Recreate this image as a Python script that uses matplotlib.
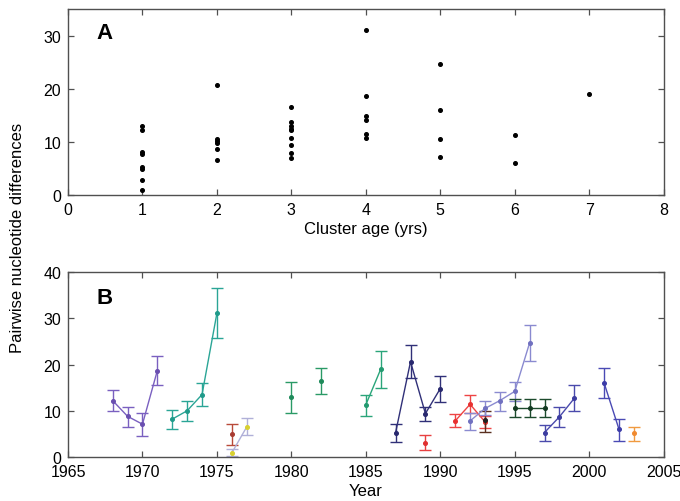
import matplotlib
matplotlib.use("Agg")
import matplotlib.pyplot as plt
import numpy as np

plt.rcParams['font.family'] = ['Liberation Sans', 'DejaVu Sans']

# Panel A data: cluster age vs pairwise differences
age_1 = [13.0, 12.2, 8.0, 7.7, 5.2, 4.9, 2.9, 0.9]
age_2 = [20.7, 10.5, 10.1, 9.8, 8.6, 6.6]
age_3 = [16.5, 13.7, 13.0, 12.5, 12.2, 10.7, 9.4, 7.9, 7.0]
age_4 = [31.1, 18.7, 14.9, 14.1, 11.5, 10.8]
age_5 = [24.6, 16.0, 10.6, 7.2]
age_6 = [11.3, 6.0]
age_7 = [19.0]
ages_a = [1, 2, 3, 4, 5, 6, 7]
vals_a = [age_1, age_2, age_3, age_4, age_5, age_6, age_7]

# Panel B series: (years, values, lower, upper, marker colour, errorbar colour)
s1_years = [1968, 1969, 1970, 1971]
s1_vals = [12.2, 8.8, 7.1, 18.7]
s1_lo = [9.9, 6.4, 4.5, 15.6]
s1_hi = [14.5, 10.9, 9.6, 21.8]

s2_years = [1972, 1973, 1974, 1975]
s2_vals = [8.2, 10.0, 13.5, 31.1]
s2_lo = [6.1, 7.7, 11.0, 25.7]
s2_hi = [10.2, 12.2, 16.0, 36.5]

s3_years = [1976]
s3_vals = [5.0]
s3_lo = [2.7]
s3_hi = [7.1]

s4_years = [1976, 1977]
s4_vals = [0.9, 6.5]
s4_lo = [0.2, 4.7]
s4_hi = [1.8, 8.5]

s5_years = [1980]
s5_vals = [12.9]
s5_lo = [9.6]
s5_hi = [16.2]

s6_years = [1982]
s6_vals = [16.5]
s6_lo = [13.7]
s6_hi = [19.3]

s7_years = [1985, 1986]
s7_vals = [11.3, 19.0]
s7_lo = [8.9, 14.9]
s7_hi = [13.4, 23.0]

s8_years = [1987, 1988, 1989, 1990]
s8_vals = [5.3, 20.6, 9.4, 14.8]
s8_lo = [3.3, 17.0, 7.7, 12.0]
s8_hi = [7.2, 24.2, 10.9, 17.6]

s9_years = [1989]
s9_vals = [3.1]
s9_lo = [1.5]
s9_hi = [4.7]

s10_years = [1991, 1992, 1993]
s10_vals = [7.8, 11.4, 7.6]
s10_lo = [6.4, 9.6, 6.3]
s10_hi = [9.2, 13.4, 8.8]

s11_years = [1993]
s11_vals = [8.0]
s11_lo = [5.5]
s11_hi = [10.0]

s12_years = [1992, 1993, 1994, 1995, 1996]
s12_vals = [7.8, 10.5, 12.2, 14.2, 24.7]
s12_lo = [5.8, 9.0, 10.0, 12.1, 20.7]
s12_hi = [9.6, 12.1, 14.1, 16.3, 28.6]

s13_years = [1995, 1996, 1997]
s13_vals = [10.7, 10.7, 10.7]
s13_lo = [8.7, 8.7, 8.7]
s13_hi = [12.5, 12.5, 12.5]

s14_years = [1997, 1998, 1999]
s14_vals = [5.3, 8.7, 12.7]
s14_lo = [3.5, 6.4, 9.9]
s14_hi = [7.0, 10.9, 15.5]

s15_years = [2001, 2002]
s15_vals = [16.0, 6.0]
s15_lo = [12.7, 3.5]
s15_hi = [19.2, 8.3]

s16_years = [2003]
s16_vals = [5.2]
s16_lo = [3.5]
s16_hi = [6.5]

series = [
    (s1_years, s1_vals, s1_lo, s1_hi, '#6a4fb0', '#7a60c0'),
    (s2_years, s2_vals, s2_lo, s2_hi, '#1f9a8a', '#2aa596'),
    (s3_years, s3_vals, s3_lo, s3_hi, '#a83a30', '#b84a3a'),
    (s4_years, s4_vals, s4_lo, s4_hi, '#d8d030', '#b0b0d8'),
    (s5_years, s5_vals, s5_lo, s5_hi, '#1e8a5a', '#2a9a66'),
    (s6_years, s6_vals, s6_lo, s6_hi, '#1e8a5a', '#2a9a66'),
    (s7_years, s7_vals, s7_lo, s7_hi, '#239a70', '#2aa57a'),
    (s8_years, s8_vals, s8_lo, s8_hi, '#28286e', '#303078'),
    (s9_years, s9_vals, s9_lo, s9_hi, '#e03030', '#e84040'),
    (s10_years, s10_vals, s10_lo, s10_hi, '#e83030', '#ee4444'),
    (s11_years, s11_vals, s11_lo, s11_hi, '#202020', '#5a3020'),
    (s12_years, s12_vals, s12_lo, s12_hi, '#7070c0', '#8a8ad0'),
    (s13_years, s13_vals, s13_lo, s13_hi, '#133a22', '#1c4a2c'),
    (s14_years, s14_vals, s14_lo, s14_hi, '#3c3ca0', '#4a4aac'),
    (s15_years, s15_vals, s15_lo, s15_hi, '#3c3ca8', '#4a4ab4'),
    (s16_years, s16_vals, s16_lo, s16_hi, '#f08a30', '#f09a40'),
]

fig = plt.figure(figsize=(6.8, 5.02), dpi=100)
axA = fig.add_axes([0.1, 0.6096, 0.876, 0.3704])
axB = fig.add_axes([0.1, 0.0876, 0.876, 0.3686])

spine_col = '#505050'
for ax in (axA, axB):
    for sp in ax.spines.values():
        sp.set_color(spine_col)
        sp.set_linewidth(1.0)
    ax.tick_params(direction='in', top=True, right=True, length=4.5,
                   color=spine_col, labelsize=11.5, width=0.9, pad=5)

# Panel A
for a, vs in zip(ages_a, vals_a):
    axA.plot([a] * len(vs), vs, 'o', color='black', markersize=2.6, linestyle='none')
axA.set_xlim(0, 8)
axA.set_ylim(0, 35)
axA.set_xticks(range(0, 9))
axA.set_yticks([0, 10, 20, 30])
axA.set_xlabel('Cluster age (yrs)', fontsize=12, labelpad=3)
axA.text(0.048, 0.875, 'A', transform=axA.transAxes, fontsize=16, fontweight='bold',
         va='center', ha='left')

# Panel B
for yrs, v, lo, hi, col, ecol in series:
    v = np.array(v)
    yerr = np.vstack([v - np.array(lo), np.array(hi) - v])
    axB.errorbar(yrs, v, yerr=yerr, fmt='none', ecolor=ecol, elinewidth=1.0,
                 capsize=4, capthick=1.0)
    axB.plot(yrs, v, '-', color=ecol, linewidth=1.0)
    axB.plot(yrs, v, 'o', color=col, markersize=2.6, linestyle='none')
axB.set_xlim(1965, 2005)
axB.set_ylim(0, 40)
axB.set_xticks(range(1965, 2006, 5))
axB.set_yticks([0, 10, 20, 30, 40])
axB.set_xlabel('Year', fontsize=12, labelpad=3)
axB.text(0.048, 0.86, 'B', transform=axB.transAxes, fontsize=16, fontweight='bold',
         va='center', ha='left')

fig.text(18 / 680, 1 - 238 / 502, 'Pairwise nucleotide differences', rotation=90,
         fontsize=12, va='center', ha='center')

fig.savefig('out.png', dpi=100)
